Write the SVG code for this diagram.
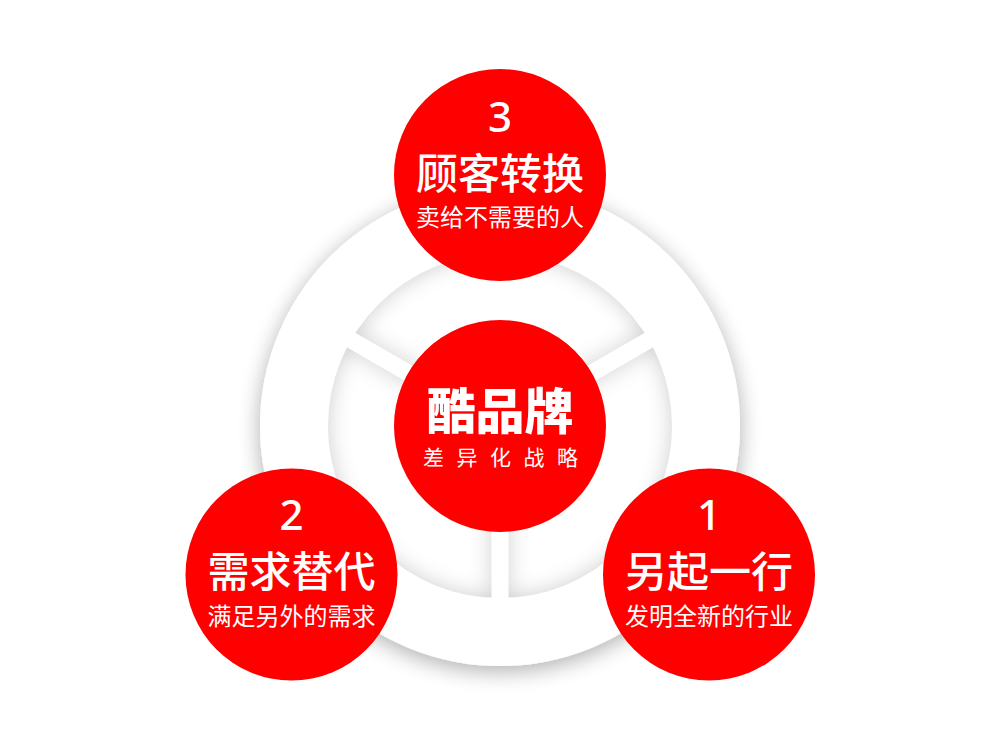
<svg xmlns="http://www.w3.org/2000/svg" width="1000" height="750" viewBox="0 0 1000 750">
  <defs>
    <style>
      .red { fill: #fe0000; }
      .num { font-family: "Noto Sans", "Noto Sans CJK SC", sans-serif; font-size: 42px; fill: #fff; text-anchor: middle; font-weight: 500; }
      .title { font-family: "Noto Sans CJK SC", sans-serif; font-size: 42px; fill: #fff; text-anchor: middle; font-weight: 500; }
      .sub { font-family: "Noto Sans CJK SC", sans-serif; font-size: 24px; fill: #fff; text-anchor: middle; }
      .brand { font-family: "Noto Sans CJK SC", sans-serif; font-size: 49px; fill: #fff; font-weight: 900; }
      .tag { font-family: "Noto Sans CJK SC", sans-serif; font-size: 21px; fill: #fff; }
    </style>
    <filter id="drop" filterUnits="userSpaceOnUse" x="200" y="150" width="600" height="600">
      <feGaussianBlur in="SourceAlpha" stdDeviation="11"/>
      <feOffset dy="5" result="o"/>
      <feComponentTransfer in="o"><feFuncA type="linear" slope="0.32"/></feComponentTransfer>
      <feMerge><feMergeNode/><feMergeNode in="SourceGraphic"/></feMerge>
    </filter>
    <filter id="inset" filterUnits="userSpaceOnUse" x="290" y="215" width="420" height="420">
      <feFlood flood-color="#000" flood-opacity="0.42" result="f"/>
      <feComposite in="f" in2="SourceAlpha" operator="out" result="inv"/>
      <feGaussianBlur in="inv" stdDeviation="11" result="b"/>
      <feComposite in="b" in2="SourceAlpha" operator="in" result="s"/>
      <feMerge><feMergeNode in="SourceGraphic"/><feMergeNode in="s"/></feMerge>
    </filter>
    <mask id="gaps" maskUnits="userSpaceOnUse" x="0" y="0" width="1000" height="750">
      <rect x="0" y="0" width="1000" height="750" fill="#fff"/>
      <rect x="491.5" y="426" width="17" height="220" fill="#000"/>
      <rect x="491.5" y="426" width="17" height="220" fill="#000" transform="rotate(120 500 426)"/>
      <rect x="491.5" y="426" width="17" height="220" fill="#000" transform="rotate(-120 500 426)"/>
    </mask>
  </defs>

  <rect x="0" y="0" width="1000" height="750" fill="#fff"/>

  <g id="outer-ring" filter="url(#drop)">
    <circle cx="500" cy="426" r="240" fill="#fff"/>
  </g>

  <g id="inner-ring" filter="url(#inset)">
    <g mask="url(#gaps)">
      <circle cx="500" cy="426" r="172" fill="#fff"/>
    </g>
  </g>

  <g id="connectors"></g>

  <g id="node-center">
    <circle class="red" cx="500" cy="426" r="106"/>
    <text class="brand" x="500" y="429" text-anchor="middle">酷品牌</text>
    <text class="tag" x="423" y="465" textLength="155" lengthAdjust="spacing">差异化战略</text>
  </g>

  <g id="node-3">
    <circle class="red" cx="500" cy="175" r="106"/>
    <text class="num" x="500" y="132">3</text>
    <text class="title" x="500" y="189">顾客转换</text>
    <text class="sub" x="500" y="226">卖给不需要的人</text>
  </g>

  <g id="node-2">
    <circle class="red" cx="291.5" cy="574.5" r="106"/>
    <text class="num" x="291.5" y="530">2</text>
    <text class="title" x="291.5" y="587">需求替代</text>
    <text class="sub" x="291.5" y="625">满足另外的需求</text>
  </g>

  <g id="node-1">
    <circle class="red" cx="709" cy="574.5" r="106"/>
    <text class="num" x="709" y="530">1</text>
    <text class="title" x="709" y="587">另起一行</text>
    <text class="sub" x="709" y="625">发明全新的行业</text>
  </g>
</svg>
